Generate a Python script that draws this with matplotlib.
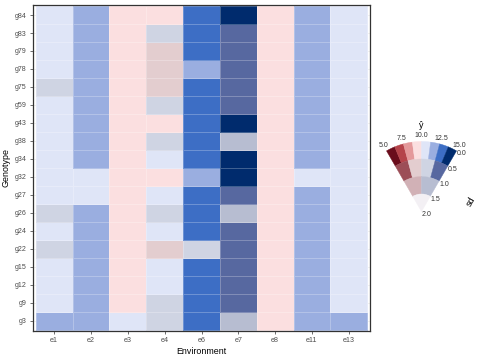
import numpy as np
import matplotlib
matplotlib.use("Agg")
import matplotlib.pyplot as plt
from matplotlib.colors import ListedColormap
from matplotlib.patches import Wedge

plt.rcParams['font.family'] = ['Liberation Sans', 'DejaVu Sans']

# genotypes bottom -> top, environments left -> right
genotypes = ['g3', 'g9', 'g12', 'g15', 'g22', 'g24', 'g26', 'g27', 'g32',
             'g34', 'g38', 'g43', 'g59', 'g75', 'g78', 'g79', 'g83', 'g84']
environments = ['e1', 'e2', 'e3', 'e4', 'e6', 'e7', 'e8', 'e11', 'e13']

# estimated (yhat, sd) classes
cls_yhat = {'P': 9.4, 'L': 10.6, 'M': 11.9, 'B': 13.1, 'N': 14.4,
            'R': 8.75, 'G': 11.25, 'S': 13.75, 'T': 12.5}
cls_sd = {'P': 0.25, 'L': 0.25, 'M': 0.25, 'B': 0.25, 'N': 0.25,
          'R': 0.75, 'G': 0.75, 'S': 0.75, 'T': 1.25}

# one string per environment, genotypes bottom -> top
cells = {
    'e1':  'MLLLGLGLLLLLLGLLLL',
    'e2':  'MMMMMMMLLMMMMMMMMM',
    'e3':  'LPPPPPPPPPPPPPPPPP',
    'e4':  'GGLLRLGLPLGPGRRRGP',
    'e6':  'BBBBGBBBMBBBBBMBBB',
    'e7':  'TSSSSSTSNNTNSSSSSN',
    'e8':  'PPPPPPPPPPPPPPPPPP',
    'e11': 'MMMMMMMMLMMMMMMMMM',
    'e13': 'MLLLLLLLLLLLLLLLLL',
}

yhat_ticks = [5.0, 7.5, 10.0, 12.5, 15.0]
sd_ticks = [0.0, 0.5, 1.0, 1.5, 2.0]

# value-suppressing palette, one list per sd level (outer -> inner)
fan_colors = [
    ['#6a0d1c', '#b5434a', '#e4999b', '#fbdfe0', '#dfe5f7', '#9aaee0', '#3d6ec5', '#002b6d'],
    ['#9c4e57', '#e3cdcf', '#cfd4e3', '#5768a0'],
    ['#d1b1b6', '#b7bdd1'],
    ['#f3f0f4'],
]

ymin, ymax, sdmax = 5.0, 15.0, 2.0


def vsup_index(y, s):
    level = min(int(s / (sdmax / 4)), 3)
    n = len(fan_colors[level])
    i = int((y - ymin) / (ymax - ymin) * n)
    return level, min(max(i, 0), n - 1)


flat = [c for row in fan_colors for c in row]
offsets = np.cumsum([0] + [len(r) for r in fan_colors])

codes = np.zeros((len(genotypes), len(environments)), dtype=int)
for j, e in enumerate(environments):
    for i, c in enumerate(cells[e]):
        lv, k = vsup_index(cls_yhat[c], cls_sd[c])
        codes[i, j] = offsets[lv] + k

W, H = 478, 359
fig = plt.figure(figsize=(W / 100, H / 100), dpi=100)
ax = fig.add_axes([33 / W, (H - 331) / H, 337 / W, 326.3 / H])

ax.set_axisbelow(True)
ax.grid(True, color='#ebebeb', linewidth=0.5)
ax.pcolormesh(np.arange(len(environments) + 1) - 0.5,
              np.arange(len(genotypes) + 1) - 0.5,
              codes, cmap=ListedColormap(flat), vmin=-0.5, vmax=len(flat) - 0.5,
              edgecolors=(1, 1, 1, 0.25), linewidth=0.4)
ax.set_xlim(-0.575, len(environments) - 0.425)
ax.set_ylim(-0.575, len(genotypes) - 0.425)
ax.set_xticks(range(len(environments)))
ax.set_xticklabels(environments)
ax.set_yticks(range(len(genotypes)))
ax.set_yticklabels(genotypes)
ax.tick_params(labelsize=5.1, labelcolor='#4d4d4d', color='#333333',
               length=2.5, width=0.5, pad=2)
for sp in ax.spines.values():
    sp.set_color('#333333')
    sp.set_linewidth(0.9)
ax.set_xlabel('Environment', fontsize=6.4, labelpad=2)
ax.set_ylabel('Genotype', fontsize=6.4, labelpad=3)

# fan legend, drawn in pixel units
lax = fig.add_axes([370 / W, 119 / H, 108 / W, 140 / H])
lax.set_xlim(370, 478)
lax.set_ylim(119, 259)
lax.axis('off')
cx, cy, R = 421.5, H - 211.5, 70.0
ring = R / 4


def ang(y):
    return 120 - (y - ymin) / (ymax - ymin) * 60


for lv, row in enumerate(fan_colors):
    n = len(row)
    step = (ymax - ymin) / n
    for k, col in enumerate(row):
        t2 = ang(ymin + k * step)
        t1 = ang(ymin + (k + 1) * step)
        lax.add_patch(Wedge((cx, cy), R - lv * ring, t1, t2, width=ring,
                            facecolor=col, edgecolor=col, linewidth=0.3))

for v in yhat_ticks:
    a = np.radians(ang(v))
    lax.text(cx + (R + 6) * np.cos(a), cy + (R + 6) * np.sin(a), f'{v:.1f}',
             ha='center', va='center', fontsize=5.0, color='#333333')
lax.text(cx, cy + R + 16, 'ŷ', ha='center', va='center', fontsize=6.4)

a = np.radians(60)
nx, ny = np.cos(np.radians(-30)), np.sin(np.radians(-30))
for v in sd_ticks:
    r = R * (1 - v / sdmax)
    lax.text(cx + r * np.cos(a) + 6 * nx, cy + r * np.sin(a) + 6 * ny, f'{v:.1f}',
             ha='center', va='center', fontsize=5.0, color='#333333')
lax.text(471, H - 202, 'sd', ha='center', va='center', fontsize=6.4, rotation=60)

fig.savefig('out.png', dpi=100)
